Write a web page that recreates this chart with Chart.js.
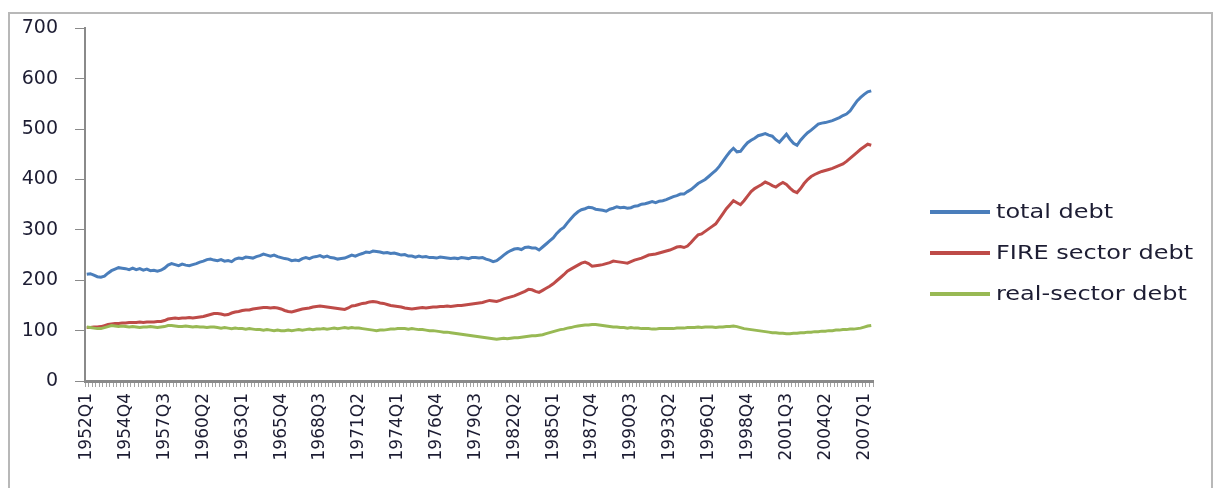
<!DOCTYPE html>
<html>
<head>
<meta charset="utf-8">
<script src="https://cdn.jsdelivr.net/npm/chart.js@4/dist/chart.umd.min.js"></script>
<style>
html, body { margin: 0; padding: 0; background: #fff; overflow: hidden; }
#wrap { position: absolute; left: 0; top: 0; width: 1217px; height: 488px; }
</style>
</head>
<body>
<div id="wrap"><canvas id="debtChart" width="1217" height="488"></canvas></div>
<script>
// --- Data (quarterly, 1952Q1 .. 2007Q3) ---
const firstYear = 1952;
const quarterCount = 223;

const tickLabels = ['1952Q1', '1954Q4', '1957Q3', '1960Q2', '1963Q1', '1965Q4', '1968Q3',
    '1971Q2', '1974Q1', '1976Q4', '1979Q3', '1982Q2', '1985Q1', '1987Q4', '1990Q3',
    '1993Q2', '1996Q1', '1998Q4', '2001Q3', '2004Q2', '2007Q1'];

const seriesNames = ['total debt', 'FIRE sector debt', 'real-sector debt'];
const seriesColors = ['#4a7ebb', '#be4b48', '#98b954'];

const totalDebt = [
    212, 213, 210, 207, 206, 208, 214, 219, 222, 225, 224,
    223, 221, 224, 221, 223, 220, 222, 219, 220, 218, 220,
    224, 230, 233, 231, 229, 232, 230, 229, 231, 233, 236,
    238, 241, 242, 240, 239, 241, 238, 239, 237, 242, 244,
    243, 246, 245, 244, 247, 249, 252, 250, 248, 250, 247,
    245, 243, 242, 239, 240, 239, 243, 245, 243, 246, 247,
    249, 246, 248, 245, 244, 242, 243, 244, 247, 250, 248,
    251, 253, 256, 255, 258, 257, 256, 254, 255, 253, 254,
    252, 250, 251, 248, 248, 246, 248, 246, 247, 245, 245,
    244, 246, 245, 244, 243, 244, 243, 245, 244, 243, 245,
    245, 244, 245, 242, 240, 237, 239, 244, 250, 255, 259,
    262, 263, 261, 265, 266, 264, 264, 260, 266, 272, 278,
    284, 293, 300, 305, 314, 322, 330, 336, 340, 342, 345,
    344, 341, 340, 339, 337, 341, 343, 346, 344, 345, 343,
    344, 347, 348, 351, 352, 354, 356, 354, 357, 358, 360,
    363, 366, 368, 371, 371, 376, 380, 386, 392, 396, 400,
    406, 412, 418, 426, 436, 446, 455, 462, 455, 456, 465,
    473, 478, 482, 487, 489, 491, 488, 486, 479, 474, 482,
    490, 480, 472, 468, 478, 486, 493, 498, 504, 510, 512,
    513, 515, 517, 520, 523, 527, 530, 536, 546, 556, 563,
    569, 574, 576
];

const fireDebt = [
    106, 106, 107, 107, 108, 110, 112, 113, 114, 114, 115,
    115, 116, 116, 116, 117, 116, 117, 117, 117, 118, 118,
    120, 123, 124, 125, 124, 125, 125, 126, 125, 126, 127,
    128, 130, 132, 134, 134, 133, 131, 132, 135, 137, 138,
    140, 141, 141, 143, 144, 145, 146, 146, 145, 146, 145,
    143, 140, 138, 137, 139, 141, 143, 144, 145, 147, 148,
    149, 148, 147, 146, 145, 144, 143, 142, 145, 149, 150,
    152, 154, 155, 157, 158, 157, 155, 154, 152, 150, 149,
    148, 147, 145, 144, 143, 144, 145, 146, 145, 146, 147,
    147, 148, 148, 149, 148, 149, 150, 150, 151, 152, 153,
    154, 155, 156, 158, 160, 159, 158, 160, 163, 165, 167,
    169, 172, 175, 178, 182, 181, 178, 176, 180, 184, 188,
    193, 199, 205, 211, 218, 222, 226, 230, 234, 236, 233,
    228, 229, 230, 231, 233, 235, 238, 237, 236, 235, 234,
    237, 240, 242, 244, 247, 250, 251, 252, 254, 256, 258,
    260, 263, 266, 267, 265, 268, 275, 283, 290, 292, 297,
    302, 307, 312, 322, 332, 342, 350, 358, 354, 350, 358,
    367, 376, 382, 386, 390, 395, 392, 388, 385, 390, 394,
    390, 383, 377, 374, 382, 392, 400, 406, 410, 413, 416,
    418, 420, 422, 425, 428, 431, 436, 442, 448, 454, 460,
    465, 470, 468
];

const realDebt = [
    107, 106, 105, 104, 104, 106, 108, 110, 109, 108, 109,
    108, 107, 108, 107, 106, 107, 107, 108, 107, 106, 107,
    108, 110, 110, 109, 108, 108, 109, 108, 107, 108, 107,
    107, 106, 107, 107, 106, 105, 106, 105, 104, 105, 104,
    104, 103, 104, 103, 102, 102, 101, 102, 101, 100, 101,
    100, 100, 101, 100, 101, 102, 101, 102, 103, 102, 103,
    103, 104, 103, 104, 105, 104, 105, 106, 105, 106, 105,
    105, 104, 103, 102, 101, 100, 101, 101, 102, 103, 103,
    104, 104, 104, 103, 104, 103, 102, 102, 101, 100, 100,
    99, 98, 97, 97, 96, 95, 94, 93, 92, 91, 90,
    89, 88, 87, 86, 85, 84, 83, 84, 85, 84, 85,
    86, 86, 87, 88, 89, 90, 90, 91, 92, 94, 96,
    98, 100, 102, 103, 105, 106, 108, 109, 110, 111, 111,
    112, 112, 111, 110, 109, 108, 107, 107, 106, 106, 105,
    106, 105, 105, 104, 104, 104, 103, 103, 104, 104, 104,
    104, 104, 105, 105, 105, 106, 106, 106, 107, 106, 107,
    107, 107, 106, 107, 107, 108, 108, 109, 108, 106, 104,
    103, 102, 101, 100, 99, 98, 97, 96, 96, 95, 95,
    94, 94, 95, 95, 96, 96, 97, 97, 98, 98, 99,
    99, 100, 100, 101, 101, 102, 102, 103, 103, 104, 105,
    107, 109, 110
];

// quarter names for the category axis
const quarters = [];
for (let i = 0; i < quarterCount; i++) {
    quarters.push((firstYear + Math.floor(i / 4)) + 'Q' + (i % 4 + 1));
}

const textColor = '#1d1d33';
const axisColor = '#8a8a8a';

// outer frame of the chart object, then the Excel style legend on the right
const frameAndLegend = {
    id: 'frameAndLegend',
    afterDraw(chart) {
        const ctx = chart.ctx;
        ctx.save();
        ctx.fillStyle = '#b8b8b8';
        ctx.fillRect(8, 12, 2, 476);
        ctx.fillRect(8, 12, 1205, 2);
        ctx.fillRect(1211, 12, 2, 476);

        chart.data.datasets.forEach((ds, k) => {
            const y = 212 + k * 41;
            ctx.strokeStyle = ds.borderColor;
            ctx.lineWidth = 4;
            ctx.beginPath();
            ctx.moveTo(930, y);
            ctx.lineTo(990, y);
            ctx.stroke();
            ctx.save();
            ctx.translate(996, y);
            ctx.scale(1.2, 1);
            ctx.fillStyle = textColor;
            ctx.font = '20px "DejaVu Sans"';
            ctx.textBaseline = 'middle';
            ctx.fillText(ds.label, 0, 1);
            ctx.restore();
        });
        ctx.restore();
    }
};

const makeSet = (k, values, order) => ({
    label: seriesNames[k],
    data: values,
    borderColor: seriesColors[k],
    backgroundColor: seriesColors[k],
    borderWidth: 3,
    pointRadius: 0,
    tension: 0,
    fill: false,
    order: order
});

Chart.defaults.font.family = '"DejaVu Sans", sans-serif';

new Chart(document.getElementById('debtChart'), {
    type: 'line',
    data: {
        labels: quarters,
        datasets: [
            makeSet(0, totalDebt, 3),
            makeSet(1, fireDebt, 2),
            makeSet(2, realDebt, 1)
        ]
    },
    options: {
        responsive: false,
        animation: false,
        layout: { padding: { left: 0, top: 25, right: 344, bottom: 0 } },
        plugins: {
            legend: { display: false },
            tooltip: { enabled: false }
        },
        scales: {
            x: {
                type: 'category',
                offset: true,
                grid: { display: true, drawOnChartArea: false, offset: true, tickLength: 6, color: '#a3a3a3' },
                border: { display: true, color: axisColor, width: 3 },
                ticks: {
                    autoSkip: false,
                    minRotation: 90,
                    maxRotation: 90,
                    padding: 6,
                    color: textColor,
                    font: { size: 17 },
                    callback: function (value) {
                        const lab = this.getLabelForValue(value);
                        return tickLabels.includes(lab) ? lab : '';
                    }
                },
                afterFit: (scale) => { scale.height = 107; }
            },
            y: {
                min: 0,
                max: 700,
                grid: { display: true, drawOnChartArea: false, tickLength: 10, color: axisColor },
                border: { display: true, color: axisColor, width: 2 },
                ticks: { stepSize: 100, padding: 17, color: textColor, font: { size: 19 } },
                afterFit: (scale) => { scale.width = 85; }
            }
        }
    },
    plugins: [frameAndLegend]
});
</script>
</body>
</html>
